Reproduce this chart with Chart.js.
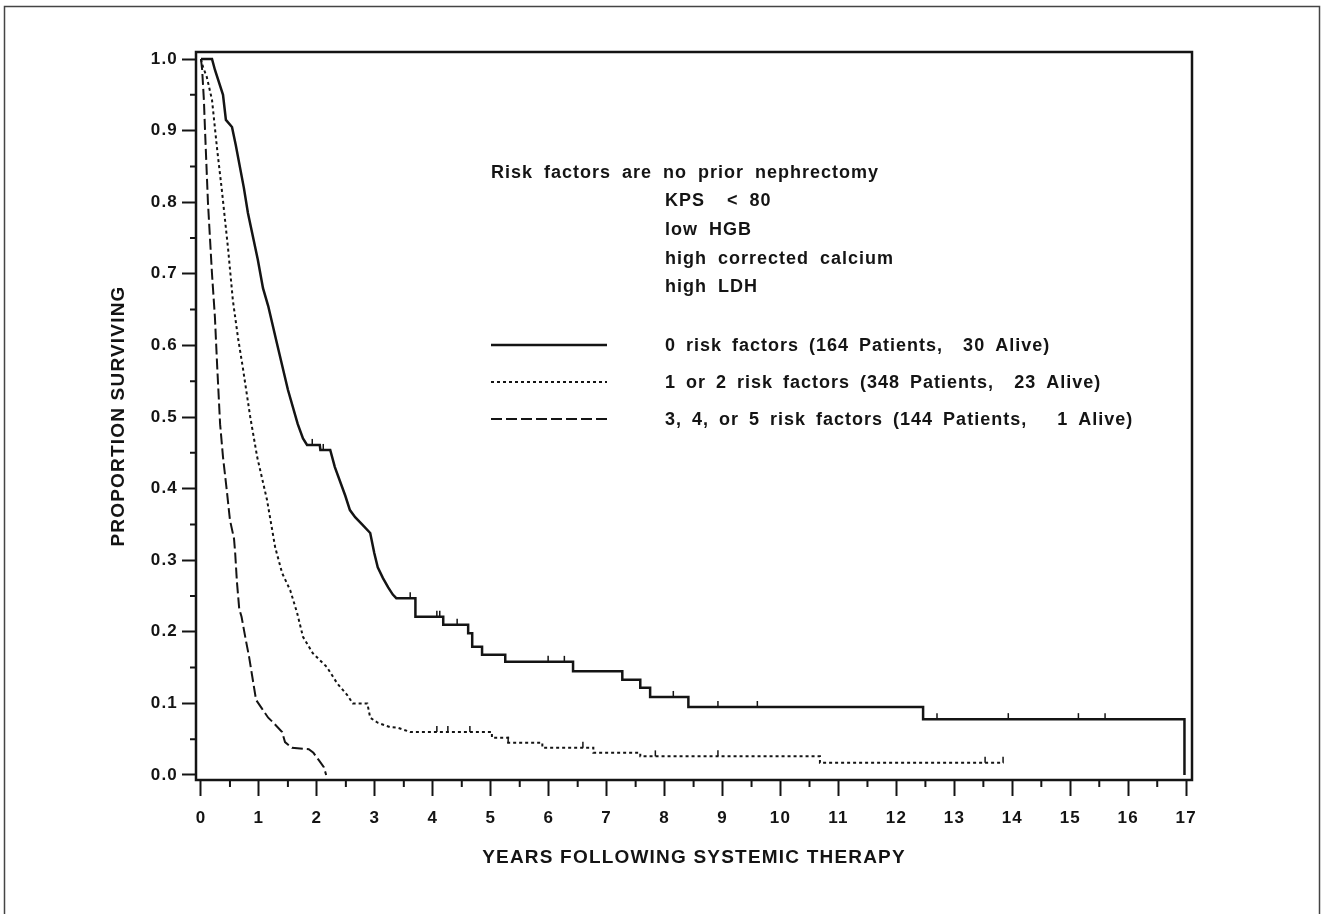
<!DOCTYPE html>
<html>
<head>
<meta charset="utf-8">
<script src="https://cdn.jsdelivr.net/npm/chart.js@4.4.1/dist/chart.umd.min.js"></script>
<style>
  html, body { margin: 0; padding: 0; background: #fff; }
</style>
</head>
<body>
<canvas id="kmChart" width="1321" height="914"></canvas>
<script>
// curve vertices: time in years, proportion surviving
const lowRiskTimes = [0, 0.19, 0.24, 0.38, 0.43, 0.535, 0.60, 0.74, 0.81, 0.98, 1.07, 1.16, 1.31, 1.50, 1.67, 1.76, 1.83, 2.05, 2.06, 2.23, 2.31, 2.49, 2.57, 2.66, 2.78, 2.92, 2.99, 3.05, 3.14, 3.23, 3.31, 3.37, 3.70, 3.70, 4.18, 4.18, 4.61, 4.61, 4.68, 4.68, 4.85, 4.85, 5.25, 5.25, 6.42, 6.42, 7.27, 7.27, 7.58, 7.58, 7.75, 7.75, 8.41, 8.41, 12.46, 12.46, 16.97, 16.97];
const lowRiskSurv = [1.0, 1.0, 0.985, 0.95, 0.915, 0.905, 0.88, 0.82, 0.785, 0.72, 0.68, 0.655, 0.603, 0.538, 0.49, 0.47, 0.461, 0.461, 0.454, 0.454, 0.43, 0.39, 0.37, 0.36, 0.35, 0.338, 0.31, 0.29, 0.275, 0.262, 0.252, 0.247, 0.247, 0.221, 0.221, 0.21, 0.21, 0.198, 0.198, 0.179, 0.179, 0.168, 0.168, 0.158, 0.158, 0.145, 0.145, 0.133, 0.133, 0.122, 0.122, 0.109, 0.109, 0.095, 0.095, 0.078, 0.078, 0.0];
const lowRiskCensor = [1.92, 2.11, 3.61, 4.07, 4.12, 4.42, 5.99, 6.27, 8.15, 8.92, 9.60, 12.70, 13.93, 15.14, 15.60];

const midRiskTimes = [0, 0.03, 0.10, 0.19, 0.28, 0.36, 0.47, 0.55, 0.64, 0.72, 0.85, 0.97, 1.14, 1.28, 1.40, 1.54, 1.66, 1.76, 1.93, 2.17, 2.35, 2.52, 2.62, 2.87, 2.92, 3.05, 3.26, 3.40, 3.61, 5.02, 5.02, 5.30, 5.30, 5.89, 5.89, 6.77, 6.77, 7.58, 7.58, 10.68, 10.68, 13.85];
const midRiskSurv = [1.0, 0.99, 0.975, 0.943, 0.873, 0.817, 0.733, 0.663, 0.61, 0.57, 0.50, 0.444, 0.384, 0.318, 0.282, 0.258, 0.226, 0.193, 0.17, 0.151, 0.128, 0.112, 0.10, 0.10, 0.08, 0.073, 0.067, 0.066, 0.06, 0.06, 0.052, 0.052, 0.045, 0.045, 0.038, 0.038, 0.031, 0.031, 0.026, 0.026, 0.017, 0.017];
const midRiskCensor = [4.07, 4.26, 4.64, 5.30, 6.59, 7.84, 8.92, 13.53, 13.84];

const highRiskTimes = [0, 0.02, 0.05, 0.07, 0.12, 0.19, 0.24, 0.28, 0.33, 0.38, 0.45, 0.50, 0.57, 0.59, 0.62, 0.66, 0.70, 0.77, 0.83, 0.88, 0.95, 1.05, 1.16, 1.25, 1.40, 1.45, 1.57, 1.86, 1.94, 2.03, 2.12, 2.16];
const highRiskSurv = [1.0, 0.985, 0.943, 0.90, 0.80, 0.70, 0.64, 0.57, 0.49, 0.444, 0.394, 0.356, 0.33, 0.31, 0.27, 0.232, 0.221, 0.19, 0.165, 0.14, 0.105, 0.093, 0.08, 0.073, 0.06, 0.046, 0.038, 0.036, 0.031, 0.021, 0.011, 0.0];

const xTicks = [0, 1, 2, 3, 4, 5, 6, 7, 8, 9, 10, 11, 12, 13, 14, 15, 16, 17];
const xMinorTicks = [0.5, 1.5, 2.5, 3.5, 4.5, 5.5, 6.5, 7.5, 8.5, 9.5, 10.5, 11.5, 12.5, 13.5, 14.5, 15.5, 16.5];
const yTicks = [0, 0.1, 0.2, 0.3, 0.4, 0.5, 0.6, 0.7, 0.8, 0.9, 1.0];
const yMinorTicks = [0.05, 0.15, 0.25, 0.35, 0.45, 0.55, 0.65, 0.75, 0.85, 0.95];

const noteLines = ['Risk factors are no prior nephrectomy', 'KPS  < 80', 'low HGB', 'high corrected calcium', 'high LDH'];
const legendLabels = [
  '0 risk factors (164 Patients,  30 Alive)',
  '1 or 2 risk factors (348 Patients,  23 Alive)',
  '3, 4, or 5 risk factors (144 Patients,   1 Alive)'
];

const ink = '#141414';
const fam = "'Liberation Sans', Arial, sans-serif";
const dots = [3, 3];
const dashes = [11, 4];

function vertices(times, surv) {
  return times.map((t, i) => ({ x: t, y: surv[i] }));
}

function survAt(times, surv, t) {
  let s = surv[0];
  for (let i = 0; i < times.length; i++) {
    if (times[i] <= t) s = surv[i];
  }
  return s;
}

function censorPoints(times, surv, marks) {
  return marks.map(t => ({ x: t, y: survAt(times, surv, t) }));
}

// wider letter spacing for the library's own labels
const spacing = {
  id: 'spacing',
  beforeDraw(chart) { chart.ctx.letterSpacing = '1.2px'; }
};

// frame, minor ticks, risk factor note and legend
const decorations = {
  id: 'decorations',
  afterDraw(chart) {
    const { ctx, chartArea: a, scales: { x, y } } = chart;
    ctx.save();
    ctx.strokeStyle = ink;
    ctx.lineWidth = 2;
    ctx.beginPath();
    xMinorTicks.forEach(v => {
      const px = x.getPixelForValue(v);
      ctx.moveTo(px, a.bottom);
      ctx.lineTo(px, a.bottom + 7);
    });
    yMinorTicks.forEach(v => {
      const py = y.getPixelForValue(v);
      ctx.moveTo(a.left, py);
      ctx.lineTo(a.left - 6, py);
    });
    ctx.stroke();

    ctx.lineWidth = 2.5;
    ctx.strokeRect(a.left, a.top, a.right - a.left, a.bottom - a.top);

    ctx.lineWidth = 1.5;
    ctx.strokeStyle = '#444';
    ctx.strokeRect(4.5, 6.5, 1315, 930);

    ctx.fillStyle = ink;
    ctx.font = 'bold 18px ' + fam;
    ctx.textBaseline = 'middle';
    ctx.letterSpacing = '1px';
    ctx.wordSpacing = '5px';
    const noteY = [173, 201, 230, 259, 287];
    noteLines.forEach((txt, i) => {
      ctx.fillText(txt, i === 0 ? 491 : 665, noteY[i]);
    });

    ctx.wordSpacing = '4px';
    const legY = [346, 383, 420];
    const styles = [[], dots, dashes];
    legendLabels.forEach((txt, i) => {
      ctx.fillText(txt, 665, legY[i]);
      ctx.beginPath();
      ctx.setLineDash(styles[i]);
      ctx.lineWidth = i === 0 ? 2.5 : 2;
      ctx.strokeStyle = ink;
      ctx.moveTo(491, legY[i] - 1);
      ctx.lineTo(607, legY[i] - 1);
      ctx.stroke();
    });
    ctx.restore();
  }
};

const lineBase = { borderColor: ink, pointRadius: 0, tension: 0, fill: false, borderJoinStyle: 'miter' };
const censorBase = {
  showLine: false, pointStyle: 'dash', pointRotation: 270, pointRadius: 6,
  pointBorderWidth: 1.5, pointBorderColor: ink, pointBackgroundColor: ink
};

new Chart(document.getElementById('kmChart'), {
  type: 'line',
  data: {
    datasets: [
      Object.assign({ label: legendLabels[0], data: vertices(lowRiskTimes, lowRiskSurv), borderWidth: 2.5 }, lineBase),
      Object.assign({ label: legendLabels[1], data: vertices(midRiskTimes, midRiskSurv), borderWidth: 2, borderDash: dots }, lineBase),
      Object.assign({ label: legendLabels[2], data: vertices(highRiskTimes, highRiskSurv), borderWidth: 2, borderDash: dashes }, lineBase),
      Object.assign({ label: 'censored 0', data: censorPoints(lowRiskTimes, lowRiskSurv, lowRiskCensor) }, censorBase),
      Object.assign({ label: 'censored 1-2', data: censorPoints(midRiskTimes, midRiskSurv, midRiskCensor) }, censorBase)
    ]
  },
  options: {
    responsive: false,
    animation: false,
    layout: { padding: { left: 96, right: 129, top: 52, bottom: 24 } },
    plugins: { legend: { display: false }, tooltip: { enabled: false } },
    scales: {
      x: {
        type: 'linear',
        min: -0.086,
        max: 17.1,
        afterBuildTicks: s => { s.ticks = xTicks.map(v => ({ value: v })); },
        afterFit: s => { s.height = 110; },
        border: { display: false },
        grid: { drawOnChartArea: false, drawTicks: true, tickLength: 16, tickWidth: 2, tickColor: ink },
        ticks: { color: ink, autoSkip: false, maxRotation: 0, padding: 12, font: { family: fam, size: 17, weight: 'bold' } },
        title: {
          display: true, text: 'YEARS FOLLOWING SYSTEMIC THERAPY', color: ink,
          font: { family: fam, size: 19, weight: 'bold' }, padding: { top: 0, bottom: 21 }
        }
      },
      y: {
        type: 'linear',
        min: -0.007,
        max: 1.0098,
        afterBuildTicks: s => { s.ticks = yTicks.map(v => ({ value: v })); },
        afterFit: s => { s.width = 100; },
        border: { display: false },
        grid: { drawOnChartArea: false, drawTicks: true, tickLength: 14, tickWidth: 2, tickColor: ink },
        ticks: { color: ink, padding: 4, autoSkip: false, callback: v => v.toFixed(1), font: { family: fam, size: 17, weight: 'bold' } },
        title: {
          display: true, text: 'PROPORTION SURVIVING', color: ink,
          font: { family: fam, size: 19, weight: 'bold' }, padding: { top: 11, bottom: 0 }
        }
      }
    }
  },
  plugins: [spacing, decorations]
});
</script>
</body>
</html>
